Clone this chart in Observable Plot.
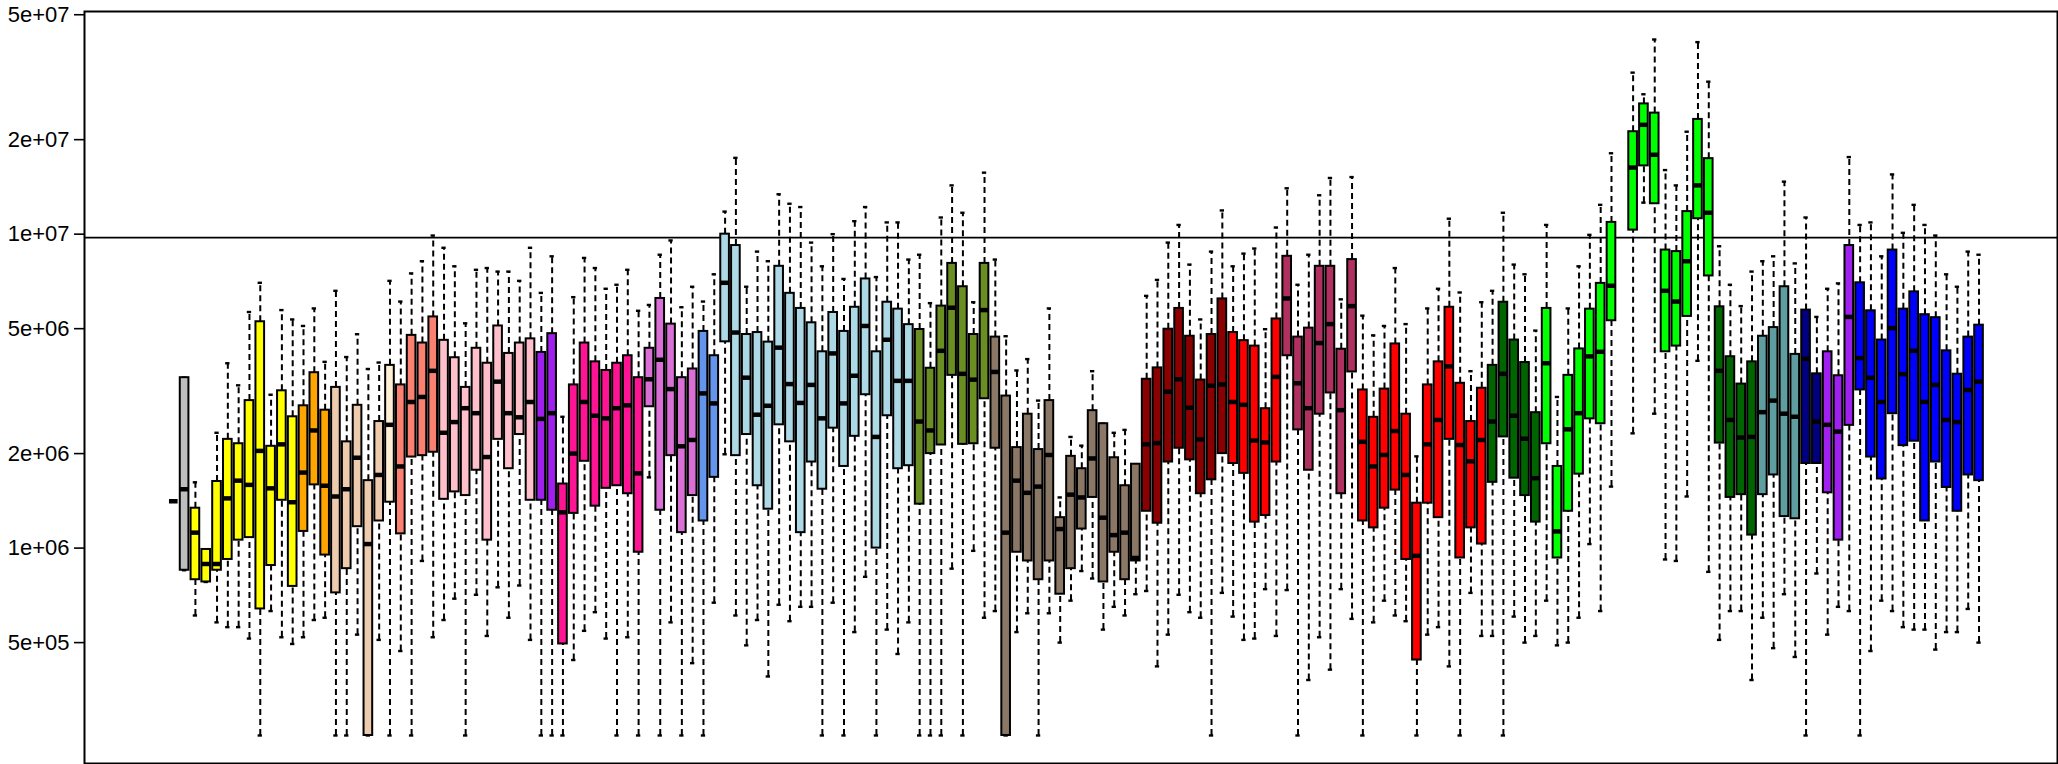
<!DOCTYPE html>
<html><head><meta charset="utf-8">
<script src="https://cdn.jsdelivr.net/npm/d3@7"></script>
<script src="https://cdn.jsdelivr.net/npm/@observablehq/plot@0.6"></script>
<style>html,body{margin:0;padding:0;background:#fff;overflow:hidden}svg{display:block}</style>
</head><body><div id="chart"></div>
<script>
// Box colours, given as runs of consecutive positions (position 1 and 136 are empty)
const groupFill = [null,"#BEBEBE","#BEBEBE","#FFFF00","#FFA500","#EECBAD","#FFEFD5","#FA8072","#FFC0CB","#A020F0","#FF1493","#DA70D6","#6495ED","#ADD8E6","#6B8E23","#8B7765","#8B0000","#FF0000","#B03060","#FF0000","#006400","#00FF00",null,"#00FF00","#006400","#5F9EA0","#000080","#A020F0","#0000FF"];
const groupCount = [1,1,1,10,3,5,1,4,9,2,8,5,2,18,7,14,8,5,7,12,5,7,1,8,4,4,2,3,12];

const whiskerLow = [null,1.41e6,8.5e5,6.1e5,7.8e5,5.8e5,5.6e5,5.6e5,5.15e5,2.53e5,
 6.3e5,5.2e5,4.95e5,5.2e5,5.9e5,6.0e5,2.53e5,2.53e5,5.3e5,2.53e5,
 5.1e5,2.53e5,4.7e5,2.53e5,9.1e5,5.2e5,5.9e5,6.9e5,2.53e5,7.1e5,
 5.25e5,7.5e5,6.0e5,7.6e5,5.1e5,2.53e5,2.53e5,2.53e5,4.4e5,5.45e5,
 6.25e5,5.15e5,2.53e5,5.2e5,2.53e5,1.68e6,2.53e5,5.8e5,2.53e5,4.3e5,
 2.53e5,6.7e5,1.99e6,6.1e5,4.9e5,5.9e5,3.9e5,6.6e5,5.85e5,6.5e5,
 6.5e5,2.53e5,6.7e5,2.53e5,5.4e5,8.1e5,2.53e5,5.5e5,4.6e5,5.8e5,
 2.53e5,2.53e5,2.53e5,8.6e5,2.53e5,9.8e5,6.0e5,6.3e5,2.53e5,5.4e5,
 6.2e5,2.53e5,6.2e5,5.0e5,6.8e5,8.45e5,8.0e5,5.5e5,6.5e5,6.1e5,
 7.13e5,7.3e5,4.2e5,5.3e5,7.1e5,6.25e5,6.0e5,2.53e5,7.2e5,6.05e5,
 5.1e5,5.15e5,7.4e5,5.25e5,7.35e5,2.53e5,3.8e5,5.2e5,4.1e5,7.4e5,
 5.95e5,2.53e5,5.8e5,6.8e5,6.1e5,5.85e5,2.53e5,5.3e5,5.6e5,4.2e5,
 2.53e5,7.2e5,5.25e5,5.25e5,2.53e5,6.05e5,5.0e5,5.25e5,6.8e5,4.9e5,
 5.0e5,6.0e5,1.03e6,6.3e5,1.57e6,null,2.32e6,1.26e7,2.68e6,9.2e5,
 9.1e5,1.46e6,3.95e6,8.4e5,5.1e5,6.3e5,6.3e5,3.8e5,6.0e5,4.8e5,
 7.13e5,4.5e5,2.53e5,8.3e5,5.3e5,6.5e5,6.3e5,2.53e5,4.7e5,6.8e5,
 6.3e5,5.6e5,5.5e5,5.5e5,4.75e5,5.4e5,5.4e5,6.4e5,5.0e5];

const lowerQuartile = [null,1.41e6,8.5e5,7.93e5,7.8e5,8.5e5,9.2e5,1.06e6,1.08e6,6.4e5,
 8.8e5,1.42e6,7.55e5,1.13e6,1.59e6,9.5e5,7.2e5,8.6e5,1.17e6,2.53e5,
 1.22e6,1.4e6,1.11e6,1.95e6,1.97e6,2.02e6,1.43e6,1.51e6,1.47e6,1.77e6,
 1.06e6,2.22e6,1.79e6,2.3e6,1.42e6,1.42e6,1.32e6,4.95e5,1.29e6,1.89e6,
 1.36e6,1.55e6,1.58e6,1.49e6,9.7e5,2.82e6,1.32e6,1.97e6,1.12e6,1.47e6,
 1.22e6,1.68e6,4.54e6,1.97e6,2.3e6,1.58e6,1.33e6,2.47e6,2.18e6,1.12e6,
 1.88e6,1.54e6,2.41e6,1.82e6,2.27e6,3.08e6,1.0e6,2.64e6,1.79e6,1.83e6,
 1.38e6,2.0e6,2.13e6,3.55e6,2.14e6,2.15e6,2.99e6,2.08e6,2.53e5,9.7e5,
 9.1e5,7.93e5,9.1e5,7.13e5,8.6e5,1.15e6,1.45e6,7.8e5,9.7e5,7.93e5,
 9.1e5,1.31e6,1.2e6,1.88e6,2.08e6,1.91e6,1.49e6,1.65e6,2.0e6,1.86e6,
 1.73e6,1.21e6,1.27e6,1.88e6,4.1e6,2.38e6,1.77e6,2.67e6,3.12e6,1.49e6,
 3.64e6,1.22e6,1.16e6,1.34e6,1.53e6,9.2e5,4.4e5,1.39e6,1.25e6,2.22e6,
 9.3e5,1.16e6,1.03e6,1.62e6,2.26e6,1.67e6,1.47e6,1.21e6,2.15e6,9.3e5,
 1.31e6,1.72e6,2.58e6,2.49e6,5.3e6,null,1.03e7,1.65e7,1.25e7,4.22e6,
 4.4e6,5.47e6,1.12e7,7.36e6,2.16e6,1.45e6,1.48e6,1.1e6,1.48e6,1.71e6,
 1.26e6,1.24e6,1.86e6,1.86e6,1.5e6,1.06e6,2.46e6,3.19e6,1.95e6,1.66e6,
 2.68e6,2.12e6,2.19e6,1.22e6,1.88e6,1.56e6,1.31e6,1.71e6,1.64e6];

const median = [null,1.41e6,1.54e6,1.12e6,8.9e5,8.9e5,1.44e6,1.64e6,1.59e6,2.04e6,
 1.55e6,2.14e6,1.4e6,1.74e6,2.37e6,1.58e6,1.46e6,1.54e6,1.94e6,1.03e6,
 1.71e6,2.47e6,1.82e6,2.92e6,3.03e6,3.67e6,2.33e6,2.52e6,2.79e6,2.69e6,
 1.95e6,3.39e6,2.69e6,2.61e6,2.92e6,2.58e6,2.69e6,1.3e6,2.0e6,2.92e6,
 2.64e6,2.59e6,2.79e6,2.85e6,1.73e6,3.45e6,3.98e6,3.21e6,2.11e6,2.21e6,
 3.11e6,2.89e6,7.0e6,4.86e6,3.49e6,2.66e6,2.84e6,4.35e6,3.33e6,2.9e6,
 3.31e6,2.59e6,4.17e6,2.89e6,3.54e6,5.1e6,2.26e6,4.61e6,3.41e6,3.41e6,
 2.53e6,2.37e6,4.25e6,5.83e6,3.59e6,3.44e6,5.73e6,3.64e6,1.12e6,1.64e6,
 1.5e6,1.57e6,1.98e6,1.15e6,1.48e6,1.45e6,1.93e6,1.25e6,1.1e6,1.12e6,
 9.3e5,2.14e6,2.16e6,3.15e6,3.45e6,2.8e6,2.22e6,3.29e6,3.32e6,2.92e6,
 2.86e6,2.2e6,2.17e6,3.51e6,6.24e6,3.35e6,2.79e6,4.5e6,5.17e6,2.75e6,
 5.9e6,2.18e6,1.82e6,1.98e6,2.36e6,1.71e6,9.45e5,2.14e6,2.56e6,3.79e6,
 2.13e6,1.89e6,2.21e6,2.53e6,3.59e6,2.64e6,2.23e6,1.67e6,3.88e6,1.13e6,
 2.39e6,2.69e6,4.08e6,4.22e6,6.85e6,null,1.63e7,2.23e7,1.79e7,6.6e6,
 6.1e6,8.2e6,1.43e7,1.17e7,3.67e6,2.56e6,2.25e6,2.26e6,2.71e6,2.95e6,
 2.68e6,2.62e6,4.01e6,2.53e6,2.47e6,2.35e6,5.45e6,4.03e6,3.49e6,2.92e6,
 5.02e6,3.58e6,4.25e6,2.92e6,3.31e6,2.56e6,2.52e6,3.19e6,3.39e6];

const upperQuartile = [null,1.41e6,3.49e6,1.34e6,9.9e5,1.63e6,2.22e6,2.15e6,2.95e6,5.26e6,
 2.11e6,3.17e6,2.62e6,2.84e6,3.62e6,2.75e6,3.25e6,2.18e6,2.85e6,1.64e6,
 2.53e6,3.82e6,3.31e6,4.76e6,4.5e6,5.45e6,4.59e6,4.04e6,3.25e6,4.33e6,
 3.88e6,5.1e6,4.17e6,4.5e6,4.64e6,4.2e6,4.82e6,1.6e6,3.31e6,4.5e6,
 3.92e6,3.68e6,3.88e6,4.1e6,3.49e6,4.33e6,6.24e6,5.17e6,3.49e6,3.72e6,
 4.9e6,4.1e6,1.0e7,9.2e6,4.79e6,4.86e6,4.53e6,7.9e6,6.48e6,5.8e6,
 5.22e6,4.22e6,5.63e6,4.9e6,5.85e6,7.2e6,4.22e6,6.07e6,5.77e6,5.15e6,
 4.97e6,3.74e6,5.9e6,8.07e6,6.8e6,4.79e6,8.07e6,4.7e6,3.05e6,2.09e6,
 2.67e6,2.06e6,2.95e6,1.25e6,1.96e6,1.79e6,2.74e6,2.49e6,1.94e6,1.58e6,
 1.85e6,3.45e6,3.75e6,4.98e6,5.8e6,4.73e6,3.43e6,4.79e6,6.22e6,4.86e6,
 4.58e6,4.4e6,2.78e6,5.37e6,8.5e6,4.7e6,5.02e6,7.9e6,7.9e6,4.3e6,
 8.3e6,3.19e6,2.61e6,3.21e6,4.47e6,2.67e6,1.39e6,3.31e6,3.92e6,5.85e6,
 3.35e6,2.53e6,3.23e6,3.82e6,6.07e6,4.6e6,3.9e6,2.7e6,5.8e6,1.82e6,
 3.55e6,4.31e6,5.77e6,6.97e6,1.09e7,null,2.12e7,2.6e7,2.43e7,8.9e6,
 8.8e6,1.18e7,2.32e7,1.74e7,5.87e6,4.07e6,3.33e6,3.92e6,4.73e6,5.04e6,
 6.8e6,4.14e6,5.73e6,3.59e6,4.22e6,3.54e6,9.2e6,7.0e6,5.7e6,4.6e6,
 8.9e6,5.77e6,6.55e6,5.54e6,5.42e6,4.25e6,3.58e6,4.7e6,5.13e6];

const whiskerHigh = [null,1.41e6,3.49e6,1.62e6,9.9e5,2.33e6,3.88e6,3.3e6,5.65e6,7.0e6,
 3.08e6,5.73e6,5.35e6,5.1e6,5.8e6,3.92e6,6.6e6,4.06e6,4.8e6,3.72e6,
 3.9e6,7.1e6,6.1e6,7.5e6,8.2e6,9.9e6,9.05e6,7.9e6,5.2e6,7.7e6,
 7.8e6,7.6e6,7.6e6,7.1e6,9.05e6,6.5e6,8.5e6,2.62e6,6.3e6,8.4e6,
 7.8e6,6.7e6,6.9e6,7.7e6,5.7e6,5.95e6,8.6e6,9.55e6,5.85e6,6.8e6,
 6.1e6,7.45e6,1.18e7,1.75e7,6.8e6,8.8e6,8.2e6,1.34e7,1.25e7,1.22e7,
 9.4e6,7.9e6,1.0e7,7.2e6,1.1e7,1.22e7,7.3e6,1.09e7,1.09e7,8.3e6,
 8.6e6,6.03e6,1.13e7,1.43e7,1.17e7,6.07e6,1.57e7,8.3e6,4.73e6,3.68e6,
 4.0e6,2.95e6,5.8e6,1.45e6,2.26e6,2.12e6,3.66e6,2.49e6,2.33e6,2.38e6,
 1.85e6,6.36e6,7.15e6,9.4e6,1.07e7,8.0e6,5.35e6,8.8e6,1.19e7,7.9e6,
 8.67e6,9.0e6,4.98e6,1.05e7,1.4e7,6.9e6,8.6e6,1.33e7,1.51e7,6.2e6,
 1.52e7,5.5e6,4.76e6,5.1e6,7.8e6,5.17e6,1.96e6,5.8e6,6.7e6,1.12e7,
 6.52e6,3.66e6,6.07e6,6.6e6,1.17e7,8.0e6,7.45e6,4.93e6,1.07e7,3.03e6,
 5.8e6,7.9e6,9.95e6,1.24e7,1.81e7,null,3.27e7,2.79e7,4.17e7,1.6e7,
 1.43e7,2.12e7,4.09e7,3.06e7,9.15e6,6.9e6,5.9e6,7.6e6,8.2e6,8.5e6,
 1.47e7,8.07e6,1.13e7,5.45e6,6.7e6,6.97e6,1.76e7,1.07e7,1.09e7,8.5e6,
 1.55e7,1.01e7,1.24e7,1.07e7,9.9e6,7.45e6,6.8e6,8.8e6,8.6e6];

const tickValues = [5e5, 1e6, 2e6, 5e6, 1e7, 2e7, 5e7];
const tickLabels = ["5e+05", "1e+06", "2e+06", "5e+06", "1e+07", "2e+07", "5e+07"];
const referenceLine = [9.75e6];

// Build the table
const fills = groupFill.flatMap((c, i) => Array(groupCount[i]).fill(c));
const boxes = median.map((m, i) => ({
  pos: i + 1, lo: whiskerLow[i], q1: lowerQuartile[i], med: m,
  q3: upperQuartile[i], hi: whiskerHigh[i], fill: fills[i]
})).filter(d => d.med != null);
const ticks = tickValues.map((v, i) => ({value: v, label: tickLabels[i]}));

const n = median.length;
const pad = 0.04 * n;
const half = 0.4, cap = 0.2;
const tickLen = 10, tickGap = 5;

const chart = Plot.plot({
  width: 2058, height: 764,
  marginLeft: 84, marginRight: 1, marginTop: 11, marginBottom: 1,
  x: {type: "linear", domain: [0.5 - pad, n + 0.5 + pad], axis: null},
  y: {type: "log", domain: [2.06e5, 5.12e7], axis: null},
  color: {type: "identity"},
  style: {fontFamily: "'Liberation Sans', Arial, Helvetica, sans-serif", background: "#fff", color: "black"},
  marks: [
    Plot.ruleY(referenceLine, {stroke: "black", strokeWidth: 1.6}),
    Plot.ruleX(boxes, {x: "pos", y1: "lo", y2: "q1", stroke: "black", strokeWidth: 2, strokeDasharray: "6,4"}),
    Plot.ruleX(boxes, {x: "pos", y1: "q3", y2: "hi", stroke: "black", strokeWidth: 2, strokeDasharray: "6,4"}),
    Plot.ruleY(boxes, {y: "lo", x1: d => d.pos - cap, x2: d => d.pos + cap, stroke: "black", strokeWidth: 2.4}),
    Plot.ruleY(boxes, {y: "hi", x1: d => d.pos - cap, x2: d => d.pos + cap, stroke: "black", strokeWidth: 2.4}),
    Plot.rect(boxes, {x1: d => d.pos - half, x2: d => d.pos + half, y1: "q1", y2: "q3", fill: "fill", stroke: "black", strokeWidth: 2}),
    Plot.ruleY(boxes, {y: "med", x1: d => d.pos - half, x2: d => d.pos + half, stroke: "black", strokeWidth: 4.5}),
    Plot.axisY({ticks: tickValues, tickFormat: () => "", tickSize: tickLen, stroke: "black", strokeWidth: 1.6}),
    Plot.text(ticks, {y: "value", text: "label", frameAnchor: "left", dx: -(tickLen + tickGap), textAnchor: "end", fontSize: 22, fill: "black"}),
    Plot.frame({stroke: "black", strokeWidth: 2})
  ]
});
document.getElementById("chart").appendChild(chart);
</script>
</body></html>
